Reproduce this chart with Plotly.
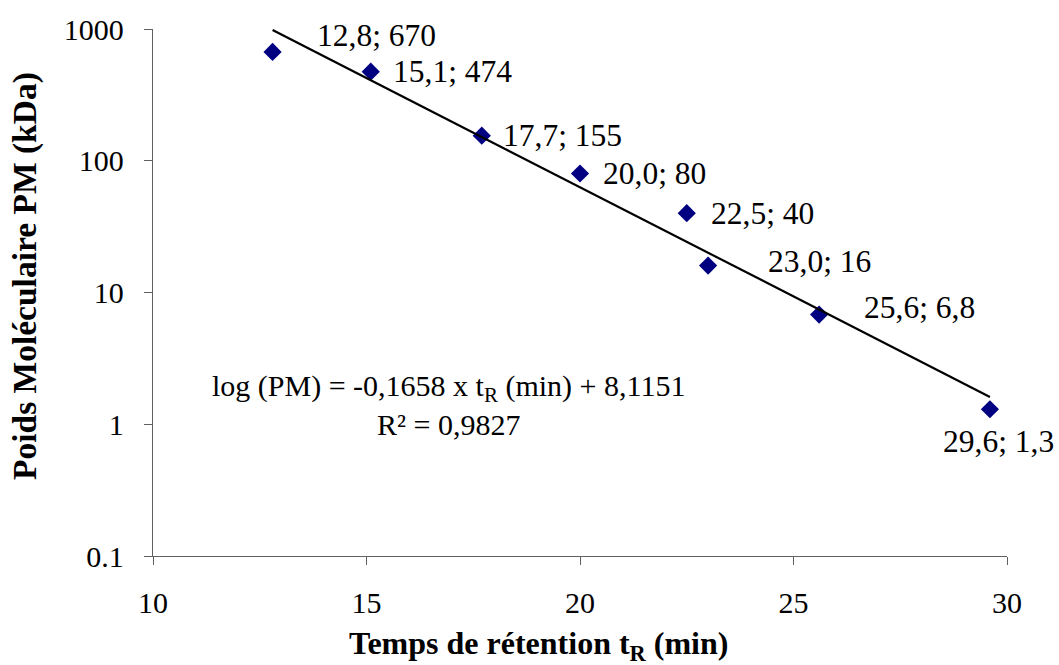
import numpy as np
import plotly.graph_objects as go

# Data
temps_min = [12.8, 15.1, 17.7, 20.0, 22.5, 23.0, 25.6, 29.6]
poids_kda = [670, 474, 155, 80, 40, 16, 6.8, 1.3]
y_tick_vals = [0.1, 1, 10, 100, 1000]
y_tick_text = ["0.1", "1", "10", "100", "1000"]
x_tick_vals = [10, 15, 20, 25, 30]
equation_text = "log (PM) = -0,1658 x t<sub>R</sub> (min) + 8,1151<br>R² = 0,9827"
x_title = "<b>Temps de rétention t<sub>R</sub> (min)</b>"
y_title = "<b>Poids Moléculaire PM (kDa)</b>"

FONT = "Liberation Serif"

def fmt(v):
    return f"{v:g}".replace(".", ",")

def fmt_x(v):
    return f"{v:.1f}".replace(".", ",")

labels = [f"{fmt_x(x)}; {fmt(y)}" for x, y in zip(temps_min, poids_kda)]

# Log-linear trend line (least squares on log10)
slope, intercept = np.polyfit(temps_min, np.log10(poids_kda), 1)
trend_x = [min(temps_min), max(temps_min)]
trend_y = [10 ** (slope * x + intercept) for x in trend_x]

W, H = 1059, 665
ml, mr, mt, mb = 153, 52, 29, 109
pw, ph = W - ml - mr, H - mt - mb

def px_to_paper(px, py):
    return (px - ml) / pw, (H - mb - py) / ph

fig = go.Figure()
fig.add_trace(go.Scatter(
    x=temps_min, y=poids_kda, mode="markers",
    marker=dict(symbol="diamond", size=14, color="#000080"),
    showlegend=False, hoverinfo="x+y",
))
fig.add_trace(go.Scatter(
    x=trend_x, y=trend_y, mode="lines",
    line=dict(color="black", width=2.2),
    showlegend=False, hoverinfo="skip",
))

# Label offsets (pixels): (xshift, yshift, xanchor)
offsets = [
    (42, 16, "left"),
    (20, 0, "left"),
    (19, 0, "left"),
    (21, 0, "left"),
    (22, 0, "left"),
    (58, 4, "left"),
    (43, 7, "left"),
    (9, -32, "center"),
]
for (x, y, lab, (dx, dy, xa)) in zip(temps_min, poids_kda, labels, offsets):
    fig.add_annotation(
        x=x, y=np.log10(y), xref="x", yref="y", text=lab, showarrow=False,
        xanchor=xa, yanchor="middle", xshift=dx, yshift=dy,
        font=dict(family=FONT, size=31.5, color="black"),
    )

ex, ey = px_to_paper(448, 405)
fig.add_annotation(x=ex, y=ey, xref="paper", yref="paper", text=equation_text,
                   showarrow=False, xanchor="center", yanchor="middle", align="center",
                   font=dict(family=FONT, size=30, color="black"))

tx, ty = px_to_paper(538, 645)
fig.add_annotation(x=tx, y=ty, xref="paper", yref="paper", text=x_title,
                   showarrow=False, xanchor="center", yanchor="middle",
                   font=dict(family=FONT, size=32, color="black"))
yx, yy = px_to_paper(25, 276)
fig.add_annotation(x=yx, y=yy, xref="paper", yref="paper", text=y_title,
                   textangle=-90, showarrow=False, xanchor="center", yanchor="middle",
                   font=dict(family=FONT, size=33.5, color="black"))

fig.update_layout(
    width=W, height=H,
    margin=dict(l=ml, r=mr, t=mt, b=mb),
    paper_bgcolor="white", plot_bgcolor="white",
    font=dict(family=FONT, size=30, color="black"),
)

fig.update_xaxes(
    range=[10, 30], tickvals=x_tick_vals,
    showline=True, linecolor="#606060", linewidth=1.3,
    ticks="outside", ticklen=8, tickcolor="#606060", tickwidth=1.3,
    ticklabelstandoff=12,
    showgrid=False, zeroline=False,
    tickfont=dict(family=FONT, size=30, color="black"),
)
fig.update_yaxes(
    type="log", range=[-1, 3], tickvals=y_tick_vals, ticktext=y_tick_text,
    showline=True, linecolor="#606060", linewidth=1.3,
    ticks="outside", ticklen=8, tickcolor="#606060", tickwidth=1.3,
    ticklabelstandoff=14,
    showgrid=False, zeroline=False,
    tickfont=dict(family=FONT, size=30, color="black"),
)

fig.write_html("out.html")
